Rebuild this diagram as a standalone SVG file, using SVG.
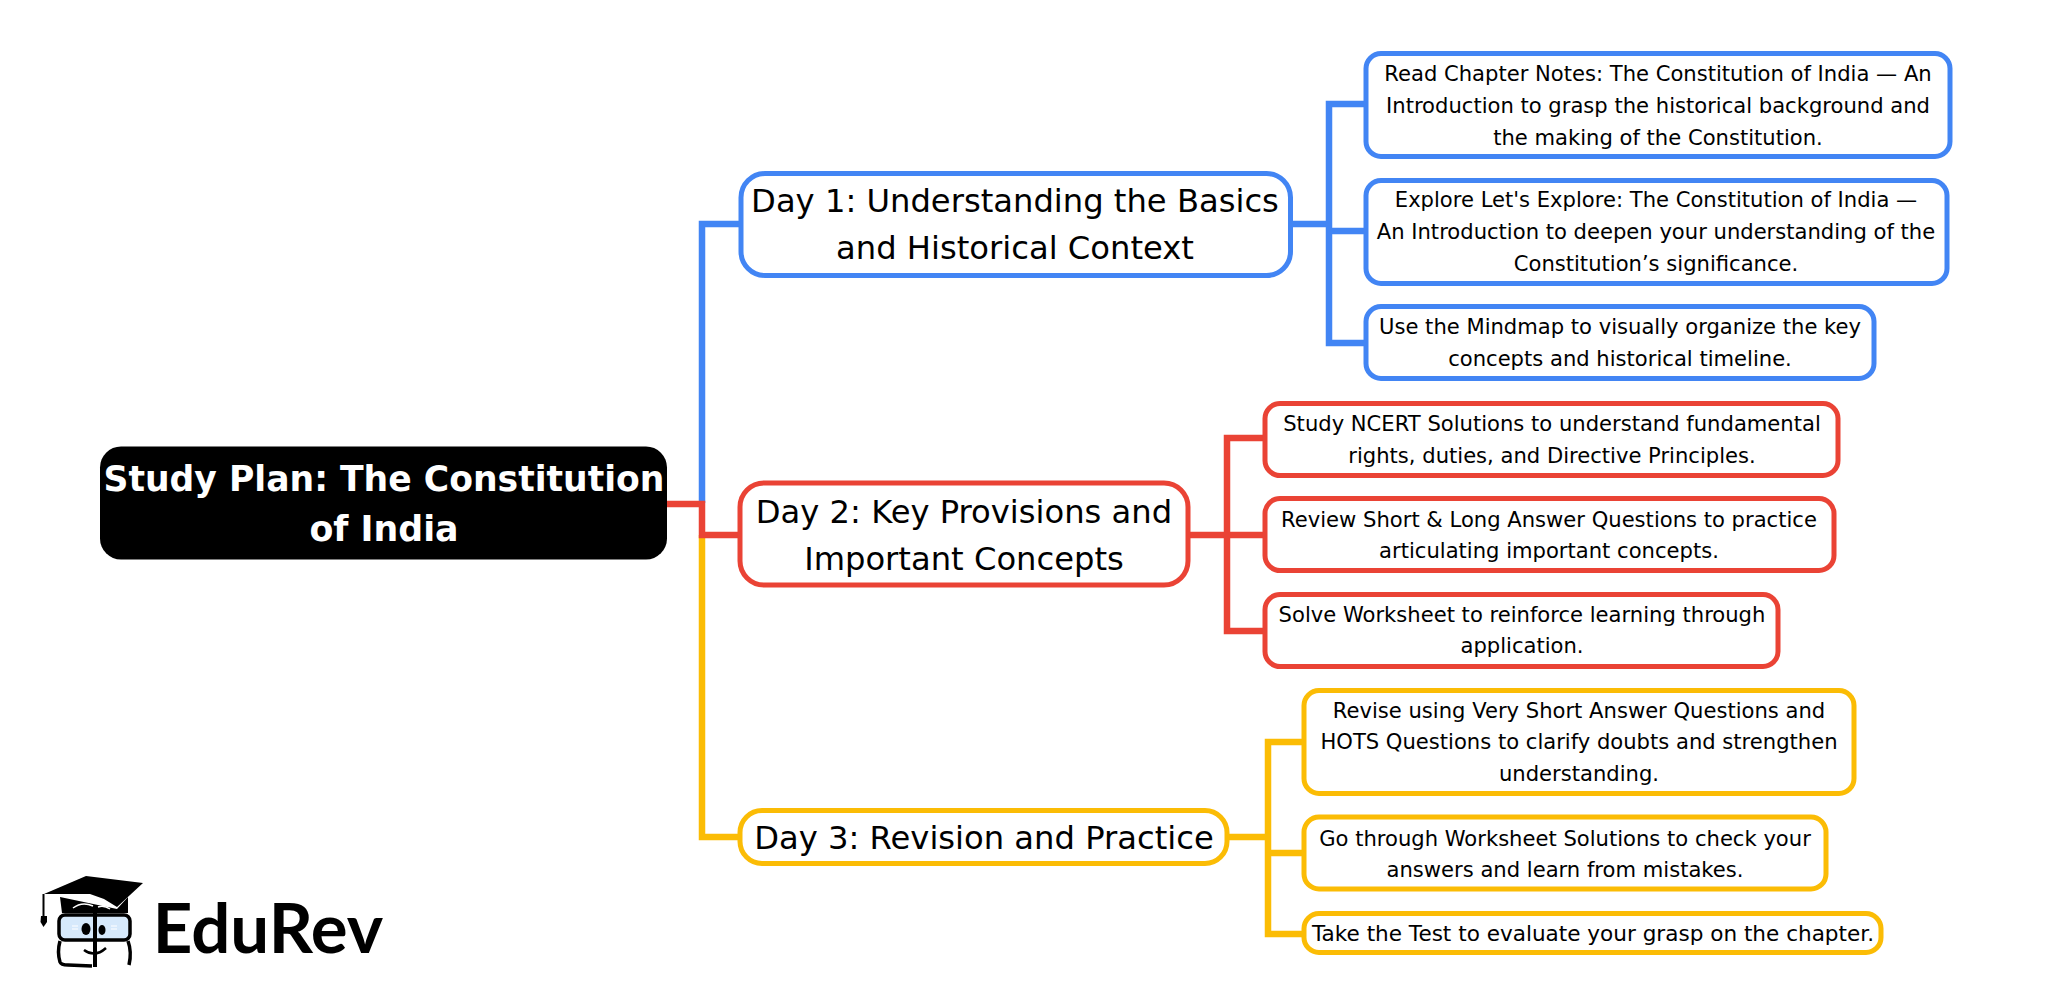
<svg xmlns="http://www.w3.org/2000/svg" width="2053" height="1006" viewBox="0 0 2053 1006">
<style>
text{font-family:"DejaVu Sans",sans-serif;fill:#000;text-anchor:middle}
.leaf{font-size:21.1px}
.day{font-size:32.2px}
.root{font-size:34.8px;font-weight:700;fill:#fff}
.n{fill:#fff;stroke-width:5}
.b{stroke:#4285f4}.r{stroke:#ea4335}.y{stroke:#fbbc05}
.c{fill:none;stroke-width:6.5}
</style>
<rect width="2053" height="1006" fill="#fff"/>
<g id="connectors">
<path class="c b" d="M741 224H702V503"/>
<path class="c y" d="M702 535V837H741"/>
<path class="c r" d="M667 504H702V535H741"/>
<path class="c b" d="M1289 224H1329M1366 104H1329V343H1366M1329 231H1366"/>
<path class="c r" d="M1183 535H1265M1265 438H1227V631H1265"/>
<path class="c y" d="M1226 837H1268M1304 742H1268V934H1304M1268 853H1304"/>
</g>
<g id="root"><rect x="100" y="446.500" width="567" height="113" rx="21" fill="#000"/>
<text class="root" x="384" y="491" textLength="561" lengthAdjust="spacingAndGlyphs">Study Plan: The Constitution</text><text class="root" x="384" y="541">of India</text></g>
<g id="day1" transform="translate(-5 -1)"><rect class="n b" x="746" y="174.500" width="549.500" height="102" rx="24"/>
<text class="day" x="1020" y="213">Day 1: Understanding the Basics</text><text class="day" x="1020" y="260">and Historical Context</text></g>
<g id="day2" transform="translate(-5 -2.500)"><rect class="n r" x="745" y="485.500" width="448" height="102" rx="24"/>
<text class="day" x="969" y="525">Day 2: Key Provisions and</text><text class="day" x="969" y="572">Important Concepts</text></g>
<g id="day3" transform="translate(-5 -4)"><rect class="n y" x="745" y="814.500" width="487" height="53" rx="22"/>
<text class="day" x="989" y="853">Day 3: Revision and Practice</text></g>
<g id="b1" transform="translate(-8 0)"><rect class="n b" x="1374" y="53.500" width="584" height="103" rx="15"/>
<text class="leaf" x="1666" y="81">Read Chapter Notes: The Constitution of India — An</text><text class="leaf" x="1666" y="113">Introduction to grasp the historical background and</text><text class="leaf" x="1666" y="145">the making of the Constitution.</text></g>
<g id="b2" transform="translate(-8 -1)"><rect class="n b" x="1374" y="181.500" width="581" height="103" rx="15"/>
<text class="leaf" x="1664" y="208">Explore Let's Explore: The Constitution of India —</text><text class="leaf" x="1664" y="240">An Introduction to deepen your understanding of the</text><text class="leaf" x="1664" y="272">Constitution’s significance.</text></g>
<g id="b3" transform="translate(-8 -2)"><rect class="n b" x="1374" y="308.500" width="508" height="72" rx="15"/>
<text class="leaf" x="1628" y="336">Use the Mindmap to visually organize the key</text><text class="leaf" x="1628" y="368">concepts and historical timeline.</text></g>
<g id="r1" transform="translate(-8 -2)"><rect class="n r" x="1273" y="405.500" width="573" height="72" rx="15"/>
<text class="leaf" x="1560" y="433">Study NCERT Solutions to understand fundamental</text><text class="leaf" x="1560" y="465">rights, duties, and Directive Principles.</text></g>
<g id="r2" transform="translate(-8 -3)"><rect class="n r" x="1273" y="501.500" width="569" height="72" rx="15"/>
<text class="leaf" x="1557" y="530">Review Short &amp; Long Answer Questions to practice</text><text class="leaf" x="1557" y="561">articulating important concepts.</text></g>
<g id="r3" transform="translate(-8 -3)"><rect class="n r" x="1273" y="597.500" width="513" height="72" rx="15"/>
<text class="leaf" x="1530" y="625">Solve Worksheet to reinforce learning through</text><text class="leaf" x="1530" y="656">application.</text></g>
<g id="y1" transform="translate(-8 -3)"><rect class="n y" x="1312" y="693.500" width="550" height="103" rx="15"/>
<text class="leaf" x="1587" y="721">Revise using Very Short Answer Questions and</text><text class="leaf" x="1587" y="752">HOTS Questions to clarify doubts and strengthen</text><text class="leaf" x="1587" y="784">understanding.</text></g>
<g id="y2" transform="translate(-8 -3.500)"><rect class="n y" x="1312" y="820.500" width="522" height="72" rx="15"/>
<text class="leaf" x="1573" y="849">Go through Worksheet Solutions to check your</text><text class="leaf" x="1573" y="880">answers and learn from mistakes.</text></g>
<g id="y3" transform="translate(-8 -4)"><rect class="n y" x="1312" y="917.500" width="577" height="39" rx="15"/>
<text class="leaf" x="1601" y="945" textLength="562" lengthAdjust="spacingAndGlyphs">Take the Test to evaluate your grasp on the chapter.</text></g>
<g id="logo">
<path d="M43.500 894V916" stroke="#000" stroke-width="2" fill="none"/>
<path d="M41 916H47L47 922 43.500 927 40.500 922Z" fill="#000"/>
<path d="M44 894L86 876 143 883 117 907 104 899 90 894Z" fill="#000"/>
<path d="M60 897L117 909 128 897V913H62Z" fill="#000"/>
<path d="M73 908Q82 901 93 906M98 907Q104 905 110 909" fill="none" stroke="#fff" stroke-width="1.500"/>
<rect x="59" y="915" width="71" height="25" rx="6" fill="#d6e9fb" stroke="#000" stroke-width="3.500"/>
<path d="M60 941Q57 952 60 962Q61 965 68 965L92 966M128 941Q132 952 129 965" fill="none" stroke="#000" stroke-width="3.500"/>
<path d="M95 913V967" stroke="#000" stroke-width="4"/>
<ellipse cx="86" cy="929" rx="4.500" ry="6" fill="#000"/><ellipse cx="102" cy="930" rx="3.500" ry="5" fill="#000"/>
<path d="M72 926H78M72 929H78M111 926H117M111 929H117" stroke="#fff" stroke-width="1.200"/>
<path d="M84 950Q95 958 106 948" fill="none" stroke="#000" stroke-width="2.500"/>
<text x="268" y="953" style="font-family:Lato,sans-serif;font-weight:700;font-size:69px">EduRev</text>
</g>
</svg>
